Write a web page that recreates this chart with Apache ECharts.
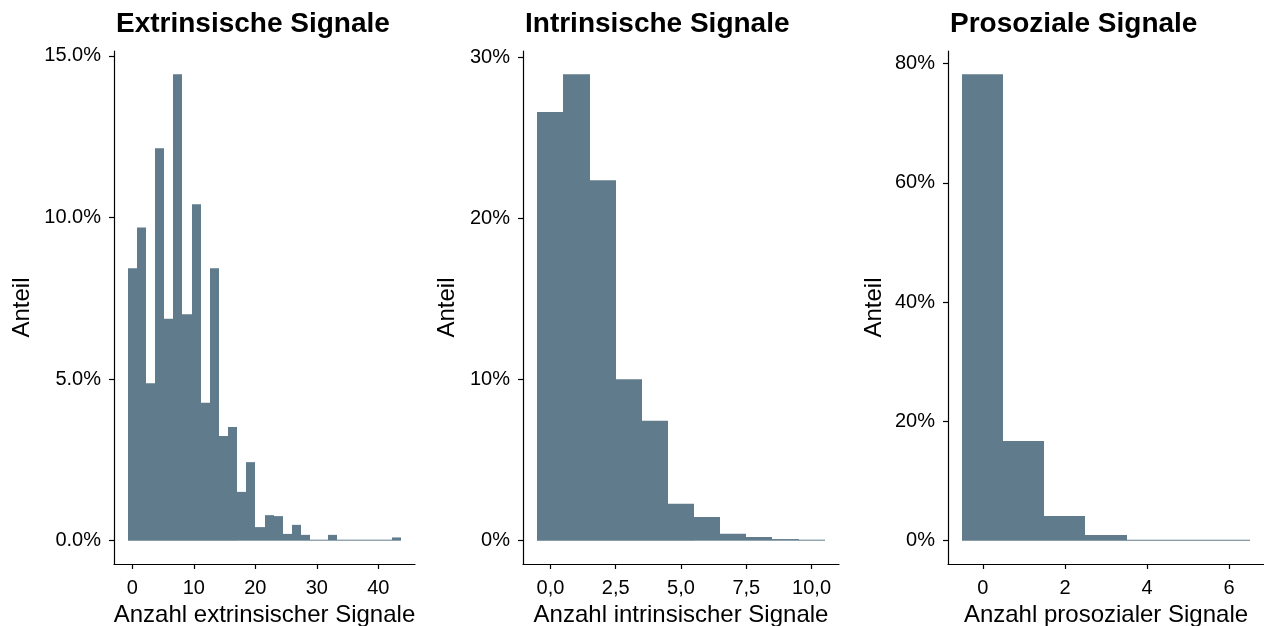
<!DOCTYPE html>
<html>
<head>
    <meta http-equiv="Content-Type" content="text/html; charset=utf-8" />
    <title>Signale</title>
    <script src="https://cdn.jsdelivr.net/npm/echarts@6/dist/echarts.min.js"></script>
    <style>
        html, body { margin: 0; padding: 0; background: #fff; }
    </style>
</head>
<body>
    <div id="main" style="width: 1264px;height:626px;"></div>
    <script type="text/javascript">

    // Anteil je Klasse in Prozent
    var extShare = [8.43, 9.69, 4.87, 12.14, 6.87, 14.43, 7.01, 10.41, 4.27, 8.43,
                    3.24, 3.52, 1.51, 2.43, 0.42, 0.79, 0.76, 0.21, 0.49, 0.18,
                    0, 0, 0.18, 0, 0, 0, 0, 0, 0, 0.1];
    var extBinWidth = 43 / 29;   // 30 Klassen von 0 bis 43
    var intShare = [26.6, 28.93, 22.36, 10.02, 7.44, 2.29, 1.47, 0.43, 0.23, 0.1, 0.04];
    var intBinWidth = 1;
    var proShare = [78.2, 16.7, 4.14, 0.95, 0, 0, 0];
    var proBinWidth = 1;

    var titles = ['Extrinsische Signale', 'Intrinsische Signale', 'Prosoziale Signale'];
    var xNames = ['Anzahl extrinsischer Signale', 'Anzahl intrinsischer Signale', 'Anzahl prosozialer Signale'];
    var extTicks = [0, 10, 20, 30, 40];
    var intTicks = [0, 2.5, 5, 7.5, 10];
    var proTicks = [0, 2, 4, 6];
    var extYTicks = [0, 5, 10, 15];
    var intYTicks = [0, 10, 20, 30];
    var proYTicks = [0, 20, 40, 60, 80];

    var barColor = '#607B8B';
    var font = 'Liberation Sans, Arial, Helvetica, sans-serif';

    // [von, bis, anteil] je Klasse
    function makeBins(shares, width) {
        return shares.map(function (s, i) {
            var c = i * width;
            return [c - width / 2, c + width / 2, s];
        });
    }

    function renderBar(params, api) {
        var p0 = api.coord([api.value(0), api.value(2)]);
        var p1 = api.coord([api.value(1), 0]);
        // auf ganze Pixel runden, damit keine Fugen zwischen den Balken entstehen
        var x0 = Math.round(p0[0]), x1 = Math.round(p1[0]);
        var h = p1[1] - p0[1];
        if (h < 1) { h = 1; p0[1] = p1[1] - 1; }
        return {
            type: 'rect',
            shape: { x: x0, y: p0[1], width: x1 - x0, height: h },
            style: { fill: barColor }
        };
    }

    // ggplot-artige Erweiterung um 5 %
    function expand(lo, hi) {
        var d = (hi - lo) * 0.05;
        return [lo - d, hi + d];
    }

    var grids = [
        { left: 114, top: 51, width: 301, height: 513, outerBoundsMode: 'none' },
        { left: 523, top: 51, width: 316, height: 513, outerBoundsMode: 'none' },
        { left: 948, top: 51, width: 316, height: 513, outerBoundsMode: 'none' }
    ];

    var binsList = [makeBins(extShare, extBinWidth), makeBins(intShare, intBinWidth), makeBins(proShare, proBinWidth)];
    var xTicksList = [extTicks, intTicks, proTicks];
    var yTicksList = [extYTicks, intYTicks, proYTicks];
    var yFmt = [
        function (v) { return v.toFixed(1) + '%'; },
        function (v) { return v + '%'; },
        function (v) { return v + '%'; }
    ];
    var xFmt = [
        function (v) { return String(v); },
        function (v) { return v.toFixed(1).replace('.', ','); },
        function (v) { return String(v); }
    ];
    var yNameGap = [80, 64, 62];

    var myChart = echarts.init(document.getElementById('main'));

    var option = {
        animation: false,
        backgroundColor: '#fff',
        textStyle: { fontFamily: font },
        title: [],
        grid: grids,
        xAxis: [],
        yAxis: [],
        series: []
    };

    for (var k = 0; k < 3; k++) {
        var bins = binsList[k];
        var xr = expand(bins[0][0], bins[bins.length - 1][1]);
        var maxY = Math.max.apply(null, bins.map(function (b) { return b[2]; }));
        var yr = expand(0, maxY);

        option.title.push({
            text: titles[k],
            left: grids[k].left + 2,
            top: 10,
            padding: 0,
            textStyle: { fontFamily: font, fontSize: 28, fontWeight: 'bold', color: '#000' }
        });
        option.xAxis.push({
            type: 'value',
            gridIndex: k,
            min: xr[0],
            max: xr[1],
            name: xNames[k],
            nameLocation: 'middle',
            nameGap: 37,
            nameTextStyle: { fontFamily: font, fontSize: 24, color: '#000' },
            splitLine: { show: false },
            axisLine: { onZero: false, lineStyle: { color: '#000', width: 1.2 } },
            axisTick: { show: true, length: 5, lineStyle: { color: '#000', width: 1.2 }, customValues: xTicksList[k] },
            axisLabel: { fontFamily: font, fontSize: 20, color: '#000', margin: 14, customValues: xTicksList[k], formatter: xFmt[k] }
        });
        option.yAxis.push({
            type: 'value',
            gridIndex: k,
            min: yr[0],
            max: yr[1],
            name: 'Anteil',
            nameLocation: 'middle',
            nameGap: yNameGap[k],
            nameTextStyle: { fontFamily: font, fontSize: 24, color: '#000' },
            splitLine: { show: false },
            axisLine: { show: true, onZero: false, lineStyle: { color: '#000', width: 1.2 } },
            axisTick: { show: true, length: 5, lineStyle: { color: '#000', width: 1.2 }, customValues: yTicksList[k] },
            axisLabel: { fontFamily: font, fontSize: 20, color: '#000', margin: 13, customValues: yTicksList[k], formatter: yFmt[k] }
        });
        option.series.push({
            type: 'custom',
            xAxisIndex: k,
            yAxisIndex: k,
            renderItem: renderBar,
            encode: { x: [0, 1], y: 2 },
            data: bins
        });
    }

    myChart.setOption(option);
    </script>
</body>
</html>
